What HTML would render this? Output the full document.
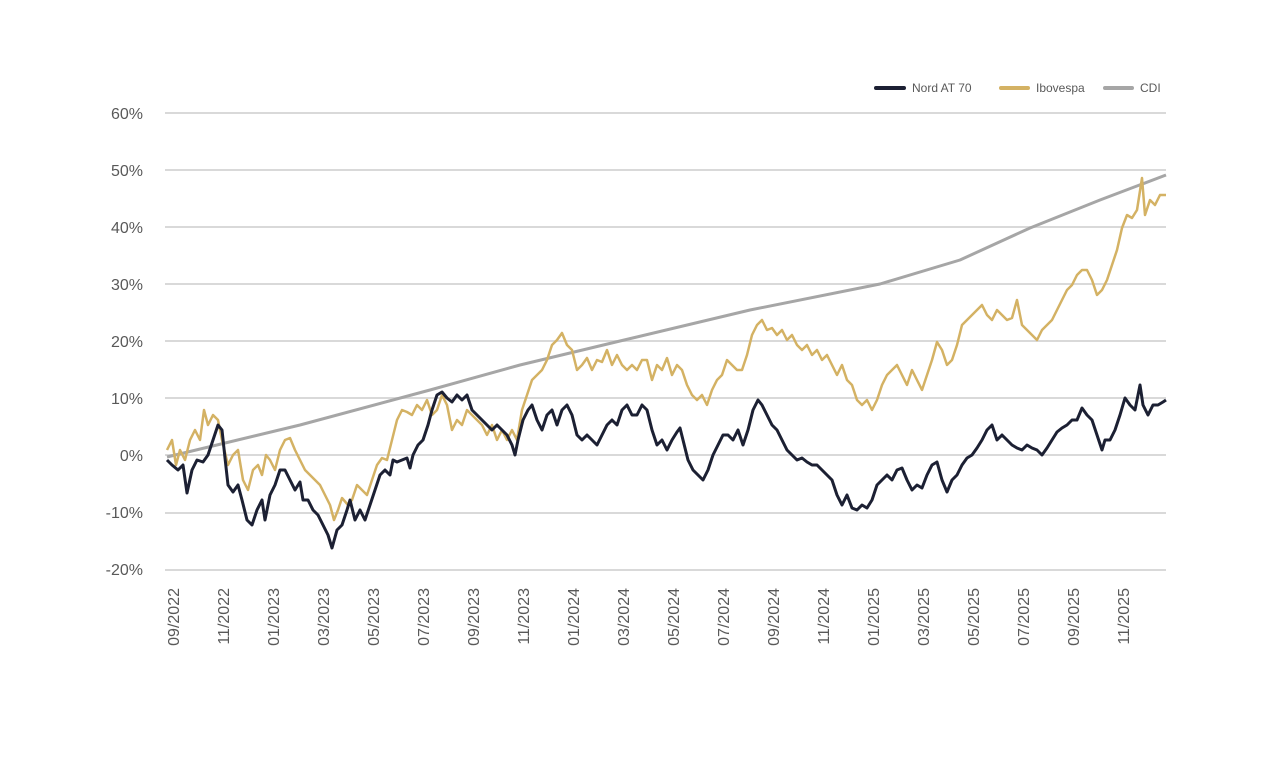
<!DOCTYPE html>
<html><head><meta charset="utf-8"><style>
body{margin:0;background:#fff;}
svg text{font-family:"Liberation Sans",sans-serif;}
</style></head><body>
<svg width="1276" height="768" viewBox="0 0 1276 768" xmlns="http://www.w3.org/2000/svg">
<g stroke="#d9d9d9" stroke-width="2">
<line x1="165" x2="1166" y1="113" y2="113"/><line x1="165" x2="1166" y1="170" y2="170"/>
<line x1="165" x2="1166" y1="227" y2="227"/><line x1="165" x2="1166" y1="284" y2="284"/>
<line x1="165" x2="1166" y1="341" y2="341"/><line x1="165" x2="1166" y1="398" y2="398"/>
<line x1="165" x2="1166" y1="455" y2="455"/><line x1="165" x2="1166" y1="513" y2="513"/>
<line x1="165" x2="1166" y1="570" y2="570"/>
</g>
<g fill="#595959" font-size="16" text-anchor="end">
<text x="143" y="119">60%</text><text x="143" y="176">50%</text><text x="143" y="233">40%</text>
<text x="143" y="290">30%</text><text x="143" y="347">20%</text><text x="143" y="404">10%</text>
<text x="143" y="461">0%</text><text x="143" y="518">-10%</text><text x="143" y="575">-20%</text>
</g>
<g fill="#595959" font-size="16" text-anchor="end">
<text transform="translate(179,588) rotate(-90)">09/2022</text>
<text transform="translate(229,588) rotate(-90)">11/2022</text>
<text transform="translate(279,588) rotate(-90)">01/2023</text>
<text transform="translate(329,588) rotate(-90)">03/2023</text>
<text transform="translate(379,588) rotate(-90)">05/2023</text>
<text transform="translate(429,588) rotate(-90)">07/2023</text>
<text transform="translate(479,588) rotate(-90)">09/2023</text>
<text transform="translate(529,588) rotate(-90)">11/2023</text>
<text transform="translate(579,588) rotate(-90)">01/2024</text>
<text transform="translate(629,588) rotate(-90)">03/2024</text>
<text transform="translate(679,588) rotate(-90)">05/2024</text>
<text transform="translate(729,588) rotate(-90)">07/2024</text>
<text transform="translate(779,588) rotate(-90)">09/2024</text>
<text transform="translate(829,588) rotate(-90)">11/2024</text>
<text transform="translate(879,588) rotate(-90)">01/2025</text>
<text transform="translate(929,588) rotate(-90)">03/2025</text>
<text transform="translate(979,588) rotate(-90)">05/2025</text>
<text transform="translate(1029,588) rotate(-90)">07/2025</text>
<text transform="translate(1079,588) rotate(-90)">09/2025</text>
<text transform="translate(1129,588) rotate(-90)">11/2025</text>
</g>
<g font-size="12" fill="#595959">
<line x1="876" x2="904" y1="88" y2="88" stroke="#1c2033" stroke-width="4" stroke-linecap="round"/>
<text x="912" y="92">Nord AT 70</text>
<line x1="1001" x2="1028" y1="88" y2="88" stroke="#d4b264" stroke-width="4" stroke-linecap="round"/>
<text x="1036" y="92">Ibovespa</text>
<line x1="1105" x2="1132" y1="88" y2="88" stroke="#a6a6a6" stroke-width="4" stroke-linecap="round"/>
<text x="1140" y="92">CDI</text>
</g>
<polyline fill="none" stroke="#a6a6a6" stroke-width="3" stroke-linejoin="round" points="167,457 300,425 430,390 520,365 620,341 750,310 880,284 960,260 1030,228 1100,200 1166,175"/>
<polyline fill="none" stroke="#d4b264" stroke-width="2.5" stroke-linejoin="round" points="167,450 172,440 176,465 180,450 185,460 190,440 195,430 200,440 204,410 208,425 213,415 218,420 222,440 228,465 233,455 238,450 243,480 248,490 253,470 258,465 262,475 266,455 270,460 275,470 280,450 285,440 290,438 295,450 300,460 305,470 310,475 315,480 320,485 325,495 330,505 334,520 338,510 342,498 348,505 352,500 357,485 362,490 367,495 372,480 377,465 382,458 387,460 392,440 397,420 402,410 407,412 412,415 417,405 422,410 427,400 432,415 437,410 442,395 447,405 452,430 457,420 462,425 467,410 472,415 477,420 482,425 487,435 492,425 497,440 502,430 507,440 512,430 517,440 522,410 527,395 532,380 537,375 542,370 547,360 552,345 557,340 562,333 567,345 572,350 577,370 582,365 587,358 592,370 597,360 602,362 607,350 612,365 617,355 622,365 627,370 632,365 637,370 642,360 647,360 652,380 657,365 662,370 667,358 672,375 677,365 682,370 687,385 692,395 697,400 702,395 707,405 712,390 717,380 722,375 727,360 732,365 737,370 742,370 747,355 752,335 757,325 762,320 767,330 772,328 777,335 782,330 787,340 792,335 797,345 802,350 807,345 812,355 817,350 822,360 827,355 832,365 837,375 842,365 847,380 852,385 857,400 862,405 867,400 872,410 877,400 882,385 887,375 892,370 897,365 902,375 907,385 912,370 917,380 922,390 927,375 932,360 937,342 942,350 947,365 952,360 957,345 962,325 967,320 972,315 977,310 982,305 987,315 992,320 997,310 1002,315 1007,320 1012,318 1017,300 1022,325 1027,330 1032,335 1037,340 1042,330 1047,325 1052,320 1057,310 1062,300 1067,290 1072,285 1077,275 1082,270 1087,270 1092,280 1097,295 1102,290 1107,280 1112,265 1117,250 1122,228 1127,215 1132,218 1137,210 1142,178 1145,215 1150,200 1155,205 1160,195 1166,195"/>
<polyline fill="none" stroke="#1c2033" stroke-width="3" stroke-linejoin="round" points="167,460 172,465 178,470 183,465 187,493 192,470 197,460 203,462 208,455 213,440 218,425 222,430 225,458 228,485 233,492 238,485 242,500 247,520 252,525 257,510 262,500 265,520 270,495 275,485 280,470 285,470 290,480 295,490 300,482 303,500 308,500 313,510 318,515 323,525 328,535 332,548 337,530 342,525 347,510 350,500 355,520 360,510 365,520 370,505 375,490 380,475 385,470 390,475 393,460 397,462 402,460 407,458 410,468 413,455 418,445 423,440 428,425 432,410 437,395 442,392 447,398 452,402 457,395 462,400 467,395 472,410 477,415 482,420 487,425 492,430 497,425 502,430 507,435 512,445 515,455 518,440 523,420 528,410 532,405 537,420 542,430 547,415 552,410 557,425 562,410 567,405 572,415 577,435 582,440 587,435 592,440 597,445 602,435 607,425 612,420 617,425 622,410 627,405 632,415 637,415 642,405 647,410 652,430 657,445 662,440 667,450 672,440 677,432 680,428 683,440 688,460 693,470 698,475 703,480 708,470 713,455 718,445 723,435 728,435 733,440 738,430 743,445 748,430 753,410 758,400 762,405 767,415 772,425 777,430 782,440 787,450 792,455 797,460 802,458 807,462 812,465 817,465 822,470 827,475 832,480 837,495 842,505 847,495 852,508 857,510 862,505 867,508 872,500 877,485 882,480 887,475 892,480 897,470 902,468 907,480 912,490 917,485 922,488 927,475 932,465 937,462 942,480 947,492 952,480 957,475 962,465 967,458 972,455 977,448 982,440 987,430 992,425 997,440 1002,435 1007,440 1012,445 1017,448 1022,450 1027,445 1032,448 1037,450 1042,455 1047,448 1052,440 1057,432 1062,428 1067,425 1072,420 1077,420 1082,408 1087,415 1092,420 1097,435 1102,450 1105,440 1110,440 1115,430 1120,415 1125,398 1130,405 1135,410 1140,385 1143,405 1148,415 1153,405 1158,405 1163,402 1166,400"/>
</svg>
</body></html>
